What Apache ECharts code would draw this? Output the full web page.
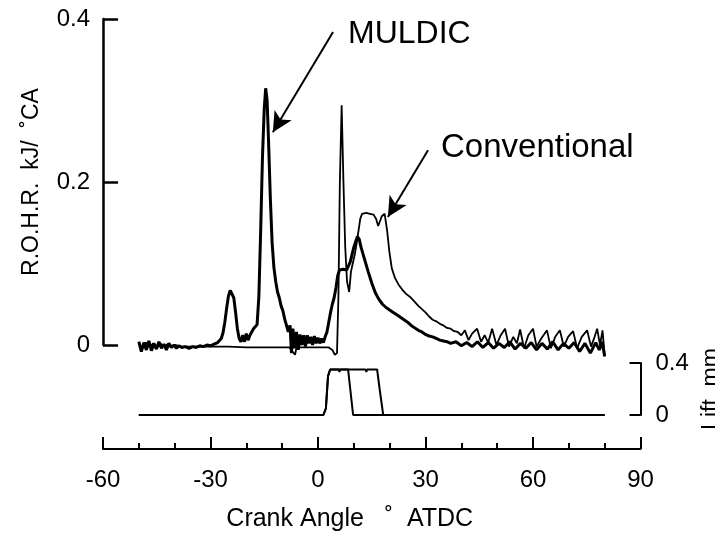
<!DOCTYPE html>
<html>
<head>
<meta charset="utf-8">
<script src="https://cdn.jsdelivr.net/npm/echarts@6/dist/echarts.min.js"></script>
<style>
html,body{margin:0;padding:0;background:#fff;}
#c{width:715px;height:533px;}
</style>
</head>
<body>
<div id="c"></div>
<script>
// Crank angle range and ticks
const xMin = -60, xMax = 90, xStep = 30;
const rohrTicks = [0, 0.2, 0.4];
const liftTicks = [0, 0.4];

// MULDIC rate of heat release [crank angle, kJ/°CA]
const muldic = [
[-50,0.004],[-49.3,-0.008],[-48.6,0.003],[-47.9,-0.006],[-47.2,0.005],[-46.5,-0.007],[-45.8,0.002],[-45.1,-0.005],[-44.4,0.004],[-43.7,-0.004],[-43,0.001],[-42.3,-0.006],[-41.6,0.002],[-40.9,-0.003],[-40.2,0.0],[-39.5,-0.004],[-38.8,-0.001],[-38,-0.003],[-37,-0.002],[-36,-0.004],[-35,-0.002],[-34,-0.003],[-33,-0.001],[-32,-0.002],[-31,0.0],[-30,-0.001],[-29,0.001],[-28,0.003],[-27,0.008],[-26.5,0.015],[-26,0.028],[-25.5,0.045],[-25,0.06],[-24.5,0.067],[-24,0.066],[-23.5,0.058],[-23,0.04],[-22.5,0.02],[-22,0.008],[-21.5,0.004],[-21,0.012],[-20.5,0.004],[-20,0.014],[-19.5,0.006],[-19,0.012],[-18.5,0.01],[-18,0.02],[-17.5,0.018],[-17,0.025],[-16.5,0.06],[-16,0.14],[-15.5,0.23],[-15,0.29],[-14.6,0.315],[-14.2,0.3],[-13.8,0.25],[-13.3,0.18],[-12.8,0.125],[-12.3,0.095],[-11.8,0.078],[-11.3,0.065],[-10.8,0.058],[-10.3,0.048],[-9.8,0.042],[-9.3,0.032],[-8.8,0.03],[-8.3,0.016],[-7.8,0.024],[-7.4,-0.01],[-7,0.02],[-6.5,-0.004],[-6,0.016],[-5.5,-0.006],[-5,0.013],[-4.5,0.0],[-4,0.012],[-3.5,-0.002],[-3,0.012],[-2.5,0.002],[-2,0.01],[-1.5,0.0],[-1,0.011],[-0.5,0.002],[0,0.009],[0.5,0.002],[1,0.008],[1.5,0.003],[2,0.01],[2.5,0.016],[3,0.028],[3.5,0.04],[4,0.05],[4.5,0.058],[5,0.07],[5.5,0.085],[6,0.092],[7,0.093],[8,0.092],[8.5,0.09],[9,0.102],[10,0.12],[11,0.133],[11.5,0.13],[12,0.12],[13,0.105],[14,0.09],[15,0.076],[16,0.064],[17,0.056],[18,0.05],[19,0.046],[20,0.043],[21,0.04],[22,0.037],[23,0.034],[24,0.031],[25,0.028],[26,0.024],[27,0.021],[28,0.018],[29,0.016],[30,0.013],[31,0.011],[32,0.01],[33,0.008],[34,0.006],[35,0.005],[36,0.004],[37,0.002],[38.5,0.004],[40,-0.001],[41.5,0.003],[43,-0.002],[44.5,0.004],[46,-0.003],[47.5,0.003],[49,-0.004],[50.5,0.002],[52,-0.003],[53.5,0.004],[55,-0.005],[56.5,0.002],[58,-0.004],[59.5,0.003],[61,-0.006],[62.5,0.002],[64,-0.005],[65.5,0.004],[67,-0.006],[68.5,0.002],[70,-0.004],[71.5,0.003],[73,-0.008],[74.5,0.002],[76,-0.01],[77.5,0.003],[78.5,-0.006],[79.3,0.004],[80,-0.014]
];

// Conventional rate of heat release [crank angle, kJ/°CA]
const conventional = [
[-50,0.002],[-49,-0.004],[-48,0.003],[-47,-0.003],[-46,0.002],[-45,-0.004],[-44,0.002],[-43,-0.002],[-42,0.001],[-41,-0.003],[-40,0.0],[-38,-0.002],[-36,-0.002],[-34,-0.002],[-32,-0.002],[-30,-0.002],[-25,-0.002],[-20,-0.003],[-15,-0.003],[-10,-0.003],[-8,-0.003],[-6.4,-0.012],[-6,-0.003],[-3,-0.003],[0,-0.003],[3,-0.003],[4,-0.006],[4.7,-0.012],[5.3,-0.01],[5.7,0.06],[6.1,0.2],[6.6,0.294],[7.1,0.2],[7.6,0.12],[8.1,0.078],[8.7,0.065],[9.2,0.09],[9.7,0.1],[10.3,0.112],[10.8,0.125],[11.3,0.14],[11.8,0.155],[12.3,0.161],[13.5,0.162],[14.5,0.161],[15.5,0.16],[16.2,0.155],[16.8,0.146],[17.3,0.148],[17.8,0.158],[18.6,0.161],[19.3,0.14],[19.9,0.115],[20.6,0.094],[21.5,0.082],[22.5,0.074],[23.5,0.068],[24.5,0.063],[25.7,0.059],[27,0.053],[28,0.048],[29,0.044],[30,0.04],[31,0.035],[32,0.031],[33,0.029],[34,0.026],[35,0.024],[36,0.021],[37,0.02],[38,0.017],[39,0.016],[40,0.012],[41,0.018],[42,0.006],[43,0.014],[44.4,0.02],[45.5,0.004],[46.5,0.012],[47.5,0.003],[48.6,0.02],[49.8,0.0],[51,0.012],[52.2,0.02],[53.3,-0.002],[54.5,0.01],[55.5,0.002],[56.4,0.019],[57.5,-0.004],[58.7,0.012],[60,0.02],[61,-0.002],[62.3,0.008],[63.9,0.018],[65,-0.004],[66.2,0.01],[67.5,0.018],[68.6,-0.002],[69.8,0.01],[71.2,0.017],[72.3,-0.004],[73.6,0.01],[75.1,0.018],[76.2,-0.002],[77.2,0.01],[77.9,0.02],[78.7,0.0],[79.4,0.018],[80,-0.012]
];

// Needle lift [crank angle, mm]
const liftMuldic = [[-50,0],[1.5,0],[2.2,0.05],[2.8,0.3],[3.4,0.35],[5.8,0.35],[6,0.33],[6.2,0.35],[8.4,0.35],[9,0.2],[9.8,0],[80,0]];
const liftConventional = [[-50,0],[1.5,0],[2.2,0.05],[2.8,0.3],[3.4,0.35],[13.3,0.35],[13.5,0.33],[13.7,0.35],[16.5,0.35],[17.2,0.2],[18.2,0],[80,0]];

// Annotation arrows (data coords: tail -> head)
const muldicArrow = [[4.2,0.384],[-12.6,0.261]];
const convArrow = [[30.7,0.239],[19.5,0.157]];

const FONT = "'Liberation Sans', Arial, Helvetica, sans-serif";
const K = '#000';

const chart = echarts.init(document.getElementById('c'), null, {renderer:'canvas'});
const fmt = v => (v === 0 ? '0' : v.toFixed(1));

const arrowLine = (pts) => ({
  silent: true,
  symbol: ['none','arrow'],
  symbolSize: [15, 20],
  label: {show:false},
  lineStyle: {color:K, width:2, type:'solid'},
  emphasis: {disabled:true},
  data: [[{coord: pts[0]}, {coord: pts[1]}]]
});

chart.setOption({
  animation: false,
  backgroundColor: '#fff',
  textStyle: {fontFamily: FONT, color: K},
  grid: [
    {left: 103, right: 74.5, top: 19, bottom: 188, outerBoundsMode: 'none', containLabel: false},
    {left: 103, right: 74.5, top: 363, bottom: 118, outerBoundsMode: 'none', containLabel: false}
  ],
  xAxis: [
    {gridIndex:0, type:'value', min:xMin, max:xMax, show:false, axisLine:{onZero:false}},
    {gridIndex:1, type:'value', min:xMin, max:xMax, interval:xStep, offset:34, position:'bottom',
     axisLine:{show:true, onZero:false, lineStyle:{color:K, width:2}},
     axisTick:{show:true, inside:true, length:12, lineStyle:{color:K, width:2}},
     minorTick:{show:true, splitNumber:3, length:6, lineStyle:{color:K, width:2}},
     splitLine:{show:false}, minorSplitLine:{show:false},
     axisLabel:{fontSize:24, color:K, margin:19, fontFamily:FONT},
     name:'Crank Angle   ˚  ATDC', nameLocation:'middle', nameGap:58,
     nameTextStyle:{fontSize:25, color:K, fontFamily:FONT, padding:[0,44,0,0]}
    }
  ],
  yAxis: [
    {gridIndex:0, type:'value', min:rohrTicks[0], max:rohrTicks[2], interval:rohrTicks[1]-rohrTicks[0],
     axisLine:{show:true, onZero:false, lineStyle:{color:K, width:2.5}},
     axisTick:{show:true, inside:true, length:15, lineStyle:{color:K, width:2.5}},
     splitLine:{show:false},
     axisLabel:{fontSize:24, color:K, margin:13, formatter:fmt, fontFamily:FONT},
     name:'R.O.H.R.  kJ/  ˚CA', nameLocation:'middle', nameRotate:90, nameGap:60,
     nameTextStyle:{fontSize:23, color:K, fontFamily:FONT}
    },
    {gridIndex:1, type:'value', position:'right', min:liftTicks[0], max:liftTicks[1], interval:liftTicks[1]-liftTicks[0],
     axisLine:{show:true, onZero:false, lineStyle:{color:K, width:2}},
     axisTick:{show:true, inside:true, length:11, lineStyle:{color:K, width:2}},
     splitLine:{show:false},
     axisLabel:{fontSize:24, color:K, margin:15, formatter:fmt, fontFamily:FONT},
     name:'Lift  mm', nameLocation:'middle', nameRotate:90, nameGap:58,
     nameTextStyle:{fontSize:23, color:K, fontFamily:FONT}
    }
  ],
  series: [
    {name:'MULDIC', type:'line', xAxisIndex:0, yAxisIndex:0, data:muldic, showSymbol:false, clip:false,
     lineStyle:{color:K, width:3}, itemStyle:{color:K}, markLine: arrowLine(muldicArrow)},
    {name:'Conventional', type:'line', xAxisIndex:0, yAxisIndex:0, data:conventional, showSymbol:false, clip:false,
     lineStyle:{color:K, width:1.8}, itemStyle:{color:K}, markLine: arrowLine(convArrow)},
    {name:'Lift MULDIC', type:'line', xAxisIndex:1, yAxisIndex:1, data:liftMuldic, showSymbol:false, clip:false,
     lineStyle:{color:K, width:2}, itemStyle:{color:K}},
    {name:'Lift Conventional', type:'line', xAxisIndex:1, yAxisIndex:1, data:liftConventional, showSymbol:false, clip:false,
     lineStyle:{color:K, width:2}, itemStyle:{color:K}}
  ],
  graphic: [
    {type:'text', left:348, top:18, style:{text:'MULDIC', fontSize:32, fontFamily:FONT, fill:K}},
    {type:'text', left:441, top:131, style:{text:'Conventional', fontSize:33, fontFamily:FONT, fill:K}}
  ]
});
</script>
</body>
</html>
